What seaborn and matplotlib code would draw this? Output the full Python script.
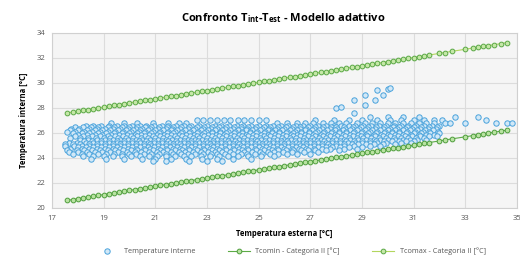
import matplotlib
matplotlib.use('Agg')
import matplotlib.pyplot as plt
import seaborn as sns
import pandas as pd

# Temperature interne: cloud of points, stored as rows (y level -> x values)
int_rows = {
    27.3: [29.3, 30.0, 30.6, 31.2, 32.6, 33.5],
    27.0: [22.6, 22.85, 23.1, 23.4, 23.65, 23.9, 24.2, 24.45, 24.7, 25.0, 25.3, 27.2, 27.9, 28.5,
           29.0, 29.6, 30.1, 30.5, 31.0, 31.4, 31.8, 32.1, 33.8],
    26.8: [19.3, 19.8, 20.3, 20.9, 21.5, 21.9, 22.2, 25.7, 26.1, 26.5, 26.8, 27.1, 27.5, 27.8, 28.1,
           28.4, 28.8, 29.1, 29.4, 29.7, 30.0, 30.3, 30.6, 30.9, 31.2, 31.5, 31.8, 32.2, 32.4, 33.0,
           34.2, 34.6, 34.8],
    26.55: [18.3, 18.6, 18.9, 19.2, 19.5, 19.8, 20.1, 20.4, 20.65, 20.95, 21.25, 21.5, 21.8, 22.1,
            22.4, 22.7, 23.0, 23.3, 23.55, 23.85, 24.15, 24.4, 24.7, 25.0, 25.3, 25.55, 25.85, 26.15,
            26.45, 26.7, 27.0, 27.3, 27.6, 27.9, 28.2, 28.5, 28.75, 29.05, 29.35, 29.65, 29.95, 30.25,
            30.5, 30.8, 31.1, 31.4, 31.7, 32.0],
    26.45: [17.9, 18.2, 18.5, 18.8, 19.15, 19.4, 19.7, 20.0, 20.3, 20.6, 20.85, 21.15, 21.45, 21.7,
            22.0, 22.3, 22.6, 22.9, 23.2, 23.45, 23.75, 24.05, 24.3, 24.6, 24.9, 25.2, 25.45, 25.75,
            26.05, 26.35, 26.6, 26.9, 27.2, 27.5, 27.8, 28.0, 28.3, 28.65, 28.95, 29.25, 29.55, 29.85,
            30.2, 30.45, 30.75, 31.0, 31.3, 31.6, 31.9],
    26.35: [17.75, 18.05, 18.45, 18.75, 19.05, 19.35, 19.65, 19.95, 20.25, 20.5, 20.8, 21.1, 21.4,
            21.65, 21.95, 22.25, 22.55, 22.85, 23.15, 23.4, 23.7, 24.0, 24.3, 24.55, 24.85, 25.15,
            25.4, 25.7, 26.0, 26.3, 26.6, 26.85, 27.15, 27.45, 27.75, 28.05, 28.35, 28.6, 28.9, 29.2,
            29.5, 29.8, 30.1, 30.35, 30.65, 30.95, 31.25, 31.55, 31.85],
    26.22: [17.7, 18.0, 18.35, 18.65, 18.95, 19.25, 19.55, 19.85, 20.15, 20.4, 20.7, 21.0, 21.3, 21.6,
            21.85, 22.15, 22.45, 22.75, 23.05, 23.3, 23.6, 23.9, 24.2, 24.5, 24.75, 25.05, 25.35,
            25.65, 25.9, 26.2, 26.5, 26.8, 27.05, 27.35, 27.65, 27.95, 28.25, 28.55, 28.8, 29.1, 29.4,
            29.7, 30.0, 30.3, 30.6, 30.85, 31.15, 31.45, 31.75],
    26.1: [17.6, 17.9, 18.25, 18.55, 18.85, 19.15, 19.45, 19.75, 20.05, 20.35, 20.6, 20.9, 21.2, 21.5,
           21.75, 22.05, 22.35, 22.65, 22.95, 23.2, 23.5, 23.8, 24.1, 24.35, 24.65, 24.95, 25.25, 25.5,
           25.8, 26.1, 26.4, 26.65, 26.95, 27.25, 27.55, 27.85, 28.1, 28.4, 28.7, 29.0, 29.3, 29.6,
           29.9, 30.15, 30.45, 30.75, 31.05, 31.35, 31.6, 31.95],
    25.97: [17.8, 18.15, 18.45, 18.8, 19.1, 19.4, 19.7, 20.0, 20.3, 20.55, 20.85, 21.15, 21.45, 21.7,
            22.0, 22.3, 22.6, 22.9, 23.2, 23.5, 23.75, 24.05, 24.35, 24.65, 24.9, 25.2, 25.5, 25.8,
            26.05, 26.35, 26.65, 26.95, 27.2, 27.5, 27.8, 28.1, 28.4, 28.65, 28.95, 29.25, 29.55,
            29.85, 30.15, 30.45, 30.7, 31.0, 31.3, 31.65, 32.0],
    25.85: [18.0, 18.35, 18.65, 18.95, 19.3, 19.6, 19.9, 20.2, 20.45, 20.75, 21.05, 21.35, 21.6, 21.9,
            22.2, 22.5, 22.8, 23.05, 23.35, 23.65, 23.95, 24.25, 24.5, 24.8, 25.1, 25.35, 25.65, 25.95,
            26.25, 26.5, 26.8, 27.1, 27.4, 27.7, 27.95, 28.25, 28.55, 28.85, 29.15, 29.45, 29.75, 30.0,
            30.3, 30.6, 30.9, 31.2, 31.5, 31.8],
    25.72: [17.9, 18.2, 18.55, 18.85, 19.15, 19.45, 19.75, 20.05, 20.3, 20.6, 20.9, 21.2, 21.45, 21.75,
            22.05, 22.35, 22.6, 22.9, 23.2, 23.45, 23.75, 24.05, 24.35, 24.6, 24.9, 25.2, 25.45, 25.75,
            26.05, 26.35, 26.6, 26.9, 27.2, 27.5, 27.75, 28.05, 28.35, 28.65, 28.95, 29.2, 29.5, 29.8,
            30.1, 30.4, 30.65, 30.95, 31.25, 31.6, 31.9],
    25.6: [17.7, 18.1, 18.4, 18.7, 19.0, 19.25, 19.55, 19.85, 20.15, 20.45, 20.7, 21.0, 21.3, 21.55,
           21.85, 22.15, 22.45, 22.7, 23.0, 23.3, 23.6, 23.9, 24.15, 24.45, 24.75, 25.05, 25.3, 25.6,
           25.9, 26.2, 26.45, 26.75, 27.05, 27.35, 27.6, 27.9, 28.2, 28.5, 28.8, 29.05, 29.35, 29.65,
           29.95, 30.25, 30.5, 30.8, 31.1, 31.4],
    25.47: [18.1, 18.4, 18.75, 19.05, 19.35, 19.65, 19.95, 20.25, 20.5, 20.8, 21.1, 21.4, 21.65, 21.95,
            22.25, 22.55, 22.8, 23.1, 23.4, 23.7, 23.95, 24.25, 24.55, 24.85, 25.1, 25.4, 25.7, 26.0,
            26.25, 26.55, 26.85, 27.15, 27.4, 27.7, 28.0, 28.3, 28.55, 28.85, 29.15, 29.45, 29.7, 30.0,
            30.3, 30.6, 30.85, 31.15, 31.5],
    25.35: [18.25, 18.55, 18.9, 19.2, 19.5, 19.8, 20.1, 20.35, 20.65, 20.95, 21.25, 21.5, 21.8, 22.1,
            22.4, 22.65, 22.95, 23.25, 23.55, 23.8, 24.1, 24.4, 24.7, 24.95, 25.25, 25.55, 25.85, 26.1,
            26.4, 26.7, 27.0, 27.25, 27.55, 27.85, 28.15, 28.4, 28.7, 29.0, 29.3, 29.55, 29.85, 30.15,
            30.45, 30.7, 31.0],
    25.22: [17.65, 17.95, 18.3, 18.6, 18.9, 19.2, 19.5, 19.8, 20.1, 20.4, 20.7, 20.95, 21.25, 21.55,
            21.85, 22.1, 22.4, 22.7, 23.0, 23.25, 23.55, 23.85, 24.15, 24.4, 24.7, 25.0, 25.3, 25.55,
            25.85, 26.15, 26.45, 26.7, 27.0, 27.3, 27.6, 27.85, 28.15, 28.45, 28.75, 29.0, 29.3, 29.6,
            29.95, 30.5, 30.9],
    25.1: [17.5, 17.8, 18.1, 18.45, 18.75, 19.05, 19.35, 19.65, 19.95, 20.25, 20.55, 20.8, 21.1, 21.4,
           21.7, 21.95, 22.25, 22.55, 22.85, 23.1, 23.4, 23.7, 24.0, 24.25, 24.55, 24.85, 25.15, 25.4,
           25.7, 26.0, 26.3, 26.55, 26.85, 27.15, 27.45, 27.7, 28.0, 28.3, 28.6, 28.85, 29.15, 29.45,
           29.8, 30.3],
    24.97: [17.5, 17.85, 18.15, 18.45, 18.75, 19.05, 19.35, 19.65, 19.95, 20.25, 20.55, 20.85, 21.1,
            21.4, 21.7, 22.0, 22.25, 22.55, 22.85, 23.15, 23.4, 23.7, 24.0, 24.3, 24.55, 24.85, 25.15,
            25.45, 25.7, 26.0, 26.3, 26.6, 26.85, 27.15, 27.45, 27.75, 28.0, 28.3, 28.7, 29.3, 29.7],
    24.85: [18.0, 18.3, 18.6, 18.9, 19.2, 19.5, 19.8, 20.1, 20.4, 20.7, 20.95, 21.25, 21.55, 21.85,
            22.1, 22.4, 22.7, 23.0, 23.25, 23.55, 23.85, 24.15, 24.4, 24.7, 25.0, 25.3, 25.55, 25.85,
            26.15, 26.45, 26.7, 27.0, 27.3, 27.6, 27.85, 28.15, 28.5, 29.0],
    24.72: [17.7, 18.15, 18.45, 18.75, 19.05, 19.35, 19.65, 19.95, 20.25, 20.55, 20.8, 21.1, 21.4,
            21.7, 21.95, 22.25, 22.55, 22.85, 23.1, 23.4, 23.7, 24.0, 24.25, 24.55, 24.85, 25.15, 25.4,
            25.7, 26.0, 26.3, 26.55, 26.85, 27.15, 27.45, 27.75, 28.3, 28.8],
    24.6: [17.6, 17.95, 18.25, 18.55, 18.85, 19.15, 19.45, 19.75, 20.05, 20.3, 20.6, 20.9, 21.2, 21.45,
           21.75, 22.05, 22.3, 22.6, 22.9, 23.2, 23.45, 23.75, 24.05, 24.35, 24.6, 24.9, 25.2, 25.5,
           25.75, 26.05, 26.35, 26.65, 26.9, 27.2, 27.6, 28.1],
    24.47: [17.65, 18.0, 18.35, 18.65, 18.95, 19.25, 19.55, 19.9, 20.2, 20.45, 20.75, 21.05, 21.3,
            21.6, 21.9, 22.15, 22.45, 22.75, 23.05, 23.3, 23.6, 23.9, 24.2, 24.45, 24.75, 25.05,
            25.35, 25.6, 25.95, 26.3, 26.75, 27.3],
    24.35: [17.8, 18.15, 18.45, 18.8, 19.1, 19.4, 19.7, 20.0, 20.25, 20.55, 20.85, 21.15, 21.4, 21.7,
            22.0, 22.25, 22.55, 22.85, 23.15, 23.4, 23.7, 24.0, 24.3, 24.55, 24.85, 25.15, 25.45,
            25.75, 26.1, 26.5, 27.0],
    24.15: [18.2, 18.6, 19.0, 19.35, 19.7, 20.05, 20.4, 20.75, 21.05, 21.4, 21.75, 22.1, 22.4, 22.75,
            23.1, 23.45, 23.8, 24.2, 24.6, 25.1, 25.6],
    23.95: [18.5, 19.1, 19.8, 20.5, 21.0, 21.6, 22.2, 22.8, 23.4, 24.0, 24.7],
    23.75: [20.9, 21.4, 22.3, 23.0, 23.6],
}
# isolated warm points
out_x = [28.0, 28.2, 28.7, 28.7, 29.1, 29.1, 29.5, 29.6, 29.8, 30.0, 30.1]
out_y = [28.0, 28.1, 28.6, 27.6, 29.0, 28.2, 28.6, 29.4, 29.0, 29.5, 29.6]

# outdoor temperatures for the comfort limits
est_x = [17.6, 17.8, 18.0, 18.2, 18.4, 18.6, 18.8, 19.0, 19.2, 19.4, 19.6, 19.8, 20.0, 20.2, 20.4,
         20.6, 20.8, 21.0, 21.2, 21.4, 21.6, 21.8, 22.0, 22.2, 22.4, 22.6, 22.8, 23.0, 23.2, 23.4,
         23.6, 23.8, 24.0, 24.2, 24.4, 24.6, 24.8, 25.0, 25.2, 25.4, 25.6, 25.8, 26.0, 26.2, 26.4,
         26.6, 26.8, 27.0, 27.2, 27.4, 27.6, 27.8, 28.0, 28.2, 28.4, 28.6, 28.8, 29.0, 29.2, 29.4,
         29.6, 29.8, 30.0, 30.2, 30.4, 30.6, 30.8, 31.0, 31.2, 31.4, 31.6, 32.0, 32.2, 32.5, 33.0,
         33.3, 33.5, 33.7, 33.9, 34.1, 34.4, 34.6]
tcomin = [20.61, 20.67, 20.74, 20.81, 20.87, 20.94, 21.00, 21.07, 21.14, 21.20, 21.27, 21.33, 21.40,
          21.47, 21.53, 21.60, 21.66, 21.73, 21.80, 21.86, 21.93, 21.99, 22.06, 22.13, 22.19, 22.26,
          22.32, 22.39, 22.46, 22.52, 22.59, 22.65, 22.72, 22.79, 22.85, 22.92, 22.98, 23.05, 23.12,
          23.18, 23.25, 23.31, 23.38, 23.45, 23.51, 23.58, 23.64, 23.71, 23.78, 23.84, 23.91, 23.97,
          24.04, 24.11, 24.17, 24.24, 24.30, 24.37, 24.44, 24.50, 24.57, 24.63, 24.70, 24.77, 24.83,
          24.90, 24.96, 25.03, 25.10, 25.16, 25.23, 25.36, 25.43, 25.53, 25.69, 25.79, 25.86, 25.92,
          25.99, 26.05, 26.15, 26.22]
tcomax = [27.61, 27.67, 27.74, 27.81, 27.87, 27.94, 28.00, 28.07, 28.14, 28.20, 28.27, 28.33, 28.40,
          28.47, 28.53, 28.60, 28.66, 28.73, 28.80, 28.86, 28.93, 28.99, 29.06, 29.13, 29.19, 29.26,
          29.32, 29.39, 29.46, 29.52, 29.59, 29.65, 29.72, 29.79, 29.85, 29.92, 29.98, 30.05, 30.12,
          30.18, 30.25, 30.31, 30.38, 30.45, 30.51, 30.58, 30.64, 30.71, 30.78, 30.84, 30.91, 30.97,
          31.04, 31.11, 31.17, 31.24, 31.30, 31.37, 31.44, 31.50, 31.57, 31.63, 31.70, 31.77, 31.83,
          31.90, 31.96, 32.03, 32.10, 32.16, 32.23, 32.36, 32.43, 32.53, 32.69, 32.79, 32.86, 32.92,
          32.99, 33.05, 33.15, 33.22]

x_ticks = [17, 19, 21, 23, 25, 27, 29, 31, 33, 35]
y_ticks = [20, 22, 24, 26, 28, 30, 32, 34]

pts = [(x, y) for y, xs in int_rows.items() for x in xs] + list(zip(out_x, out_y))
df_int = pd.DataFrame(pts, columns=['Test', 'Tint'])
df_lim = pd.DataFrame({'Test': est_x, 'Tcomin': tcomin, 'Tcomax': tcomax})

plt.rcParams['font.family'] = ['Open Sans', 'DejaVu Sans']
plt.rcParams['mathtext.fontset'] = 'custom'
plt.rcParams['mathtext.rm'] = 'Open Sans'
plt.rcParams['mathtext.bf'] = 'Open Sans:bold'

fig = plt.figure(figsize=(5.2, 2.59), dpi=100)
ax = fig.add_axes([0.1, 0.197, 0.894, 0.676])
ax.set_facecolor('#f5f5f5')

sns.scatterplot(data=df_int, x='Test', y='Tint', ax=ax, s=15, marker='o',
                facecolor='#d2e8f7', edgecolor='#4aa3dc', linewidth=0.7,
                label='Temperature interne', zorder=3)
sns.lineplot(data=df_lim, x='Test', y='Tcomin', ax=ax, sort=False, color='#5cab46', lw=0.8,
             marker='o', markersize=3.4, markerfacecolor='#b9e3a2', markeredgecolor='#4f9e3d',
             markeredgewidth=0.7, label='Tcomin - Categoria II [°C]', zorder=4)
sns.lineplot(data=df_lim, x='Test', y='Tcomax', ax=ax, sort=False, color='#b3d65e', lw=0.8,
             marker='o', markersize=3.4, markerfacecolor='#c6e8a8', markeredgecolor='#5aa845',
             markeredgewidth=0.7, label='Tcomax - Categoria II [°C]', zorder=4)

ax.set_xlim(17, 35)
ax.set_ylim(20, 34)
ax.set_xticks(x_ticks)
ax.set_yticks(y_ticks)
ax.grid(True, color='#dcdcdc', lw=0.8)
ax.set_axisbelow(True)
for sp in ax.spines.values():
    sp.set_color('#d0d0d0')
    sp.set_linewidth(0.8)
ax.tick_params(length=0, labelsize=5.5, labelcolor='#555555', pad=5)

ax.set_xlabel('Temperatura esterna [°C]', fontsize=5.5, fontweight='bold', labelpad=5)
ax.set_ylabel('Temperatura interna [°C]', fontsize=5.5, fontweight='bold', labelpad=6)
fig.suptitle(r'Confronto T$_\mathbf{int}$-T$_\mathbf{est}$ - Modello adattivo',
             fontsize=8, fontweight='bold', y=0.955, x=0.545)

handles, labels = ax.get_legend_handles_labels()
ax.get_legend().remove()
fig.legend(handles, labels, loc='center', bbox_to_anchor=(0.56, 0.03), ncol=3, fontsize=5.2,
           frameon=False, columnspacing=4.5, handlelength=3, labelcolor='#555555')

fig.savefig('out.png', dpi=100)
